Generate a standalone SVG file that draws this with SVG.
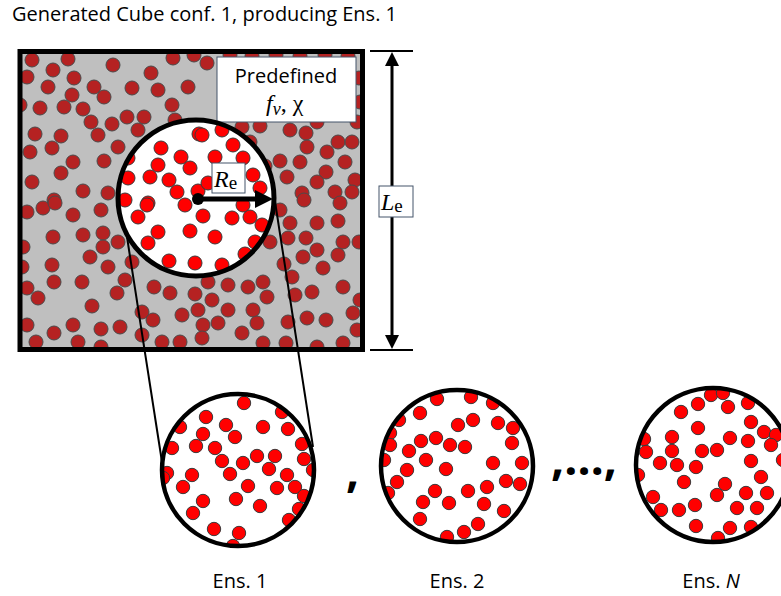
<svg xmlns="http://www.w3.org/2000/svg" xmlns:xlink="http://www.w3.org/1999/xlink" width="781" height="596" viewBox="0 0 781 596">
<style>
.g circle{fill:#b52222;stroke:#4a4a4a;stroke-width:1}
.r circle{fill:#ff0000;stroke:#3a3a3a;stroke-width:1}
.lbl{font-family:"Open Sans","Noto Sans",sans-serif;font-size:20px;fill:#000}
.math{font-family:"Liberation Serif","Times New Roman",serif;font-size:24px;fill:#000}
.box{fill:#fff;stroke:#44546a;stroke-width:1}
.ring{fill:none;stroke:#000;stroke-width:5}
.conn{stroke:#000;stroke-width:2;fill:none}
</style>
<defs>
<clipPath id="sq"><rect x="22" y="54" width="338" height="293"/></clipPath>
<clipPath id="bc"><circle cx="196" cy="198" r="78"/></clipPath>
<clipPath id="c1"><circle cx="238" cy="470" r="75"/></clipPath>
<clipPath id="c2"><circle cx="457" cy="466" r="75"/></clipPath>
<clipPath id="c3"><circle cx="713" cy="465" r="76"/></clipPath>
</defs>
<rect width="781" height="596" fill="#fff"/>
<text class="lbl" x="12" y="21" textLength="385" lengthAdjust="spacingAndGlyphs">Generated Cube conf. 1, producing Ens. 1</text>

<g id="cube">
<rect x="20" y="51.5" width="342.5" height="298" fill="#bfbfbf"/>
<g class="g" clip-path="url(#sq)">
<circle cx="32" cy="60" r="7"/><circle cx="68" cy="59" r="7"/><circle cx="53" cy="70" r="7"/><circle cx="27" cy="77" r="7"/><circle cx="74" cy="78" r="7"/><circle cx="113" cy="65" r="7"/><circle cx="48" cy="87" r="7"/><circle cx="94" cy="87" r="7"/><circle cx="72" cy="95" r="7"/><circle cx="104" cy="97" r="7"/><circle cx="132" cy="88" r="7"/><circle cx="151" cy="73" r="7"/><circle cx="158" cy="90" r="7"/><circle cx="173" cy="58" r="7"/><circle cx="194" cy="55" r="7"/><circle cx="207" cy="63" r="7"/><circle cx="188" cy="87" r="7"/><circle cx="172" cy="105" r="7"/><circle cx="40" cy="108" r="7"/><circle cx="64" cy="107" r="7"/><circle cx="83" cy="109" r="7"/><circle cx="91" cy="122" r="7"/><circle cx="112" cy="124" r="7"/><circle cx="127" cy="117" r="7"/><circle cx="144" cy="117" r="7"/><circle cx="138" cy="130" r="7"/><circle cx="175" cy="120" r="7"/><circle cx="35" cy="134" r="7"/><circle cx="61" cy="136" r="7"/><circle cx="98" cy="135" r="7"/><circle cx="52" cy="148" r="7"/><circle cx="30" cy="152" r="7"/><circle cx="118" cy="147" r="7"/><circle cx="73" cy="162" r="7"/><circle cx="104" cy="161" r="7"/><circle cx="61" cy="173" r="7"/><circle cx="32" cy="182" r="7"/><circle cx="83" cy="191" r="7"/><circle cx="108" cy="193" r="7"/><circle cx="54" cy="200" r="7"/><circle cx="20" cy="105" r="7"/>
<circle cx="230" cy="55" r="7"/><circle cx="252" cy="56" r="7"/><circle cx="276" cy="55" r="7"/><circle cx="300" cy="56" r="7"/><circle cx="325" cy="55" r="7"/><circle cx="348" cy="56" r="7"/><circle cx="359" cy="78" r="7"/><circle cx="360" cy="102" r="7"/>
<circle cx="242" cy="127" r="7"/><circle cx="260" cy="126" r="7"/><circle cx="290" cy="130" r="7"/><circle cx="306" cy="133" r="7"/><circle cx="317" cy="122" r="7"/><circle cx="357" cy="122" r="7"/><circle cx="338" cy="142" r="7"/><circle cx="352" cy="142" r="7"/><circle cx="307" cy="147" r="7"/><circle cx="250" cy="142" r="7"/><circle cx="327" cy="152" r="7"/><circle cx="280" cy="161" r="7"/><circle cx="300" cy="162" r="7"/><circle cx="265" cy="166" r="7"/><circle cx="345" cy="162" r="7"/><circle cx="326" cy="172" r="7"/><circle cx="287" cy="177" r="7"/><circle cx="317" cy="182" r="7"/><circle cx="355" cy="180" r="7"/><circle cx="335" cy="192" r="7"/><circle cx="352" cy="192" r="7"/><circle cx="302" cy="193" r="7"/>
<circle cx="27" cy="212" r="7"/><circle cx="43" cy="208" r="7"/><circle cx="55" cy="203" r="7"/><circle cx="73" cy="215" r="7"/><circle cx="101" cy="210" r="7"/><circle cx="53" cy="237" r="7"/><circle cx="83" cy="235" r="7"/><circle cx="103" cy="233" r="7"/><circle cx="103" cy="247" r="7"/><circle cx="118" cy="242" r="7"/><circle cx="90" cy="257" r="7"/><circle cx="23" cy="247" r="7"/><circle cx="52" cy="265" r="7"/><circle cx="108" cy="267" r="7"/><circle cx="132" cy="262" r="7"/><circle cx="22" cy="267" r="7"/><circle cx="54" cy="282" r="7"/><circle cx="82" cy="282" r="7"/><circle cx="125" cy="280" r="7"/><circle cx="27" cy="288" r="7"/><circle cx="117" cy="293" r="7"/><circle cx="154" cy="287" r="7"/><circle cx="170" cy="293" r="7"/><circle cx="38" cy="298" r="7"/><circle cx="195" cy="294" r="7"/><circle cx="208" cy="282" r="7"/><circle cx="212" cy="300" r="7"/><circle cx="92" cy="306" r="7"/><circle cx="142" cy="312" r="7"/><circle cx="153" cy="320" r="7"/><circle cx="182" cy="315" r="7"/><circle cx="198" cy="310" r="7"/><circle cx="27" cy="325" r="7"/><circle cx="54" cy="333" r="7"/><circle cx="73" cy="325" r="7"/><circle cx="101" cy="329" r="7"/><circle cx="120" cy="327" r="7"/><circle cx="142" cy="335" r="7"/><circle cx="162" cy="342" r="7"/><circle cx="180" cy="342" r="7"/><circle cx="203" cy="325" r="7"/><circle cx="202" cy="338" r="7"/><circle cx="36" cy="342" r="7"/><circle cx="78" cy="342" r="7"/><circle cx="101" cy="347" r="7"/>
<circle cx="280" cy="210" r="7"/><circle cx="304" cy="200" r="7"/><circle cx="340" cy="203" r="7"/><circle cx="290" cy="223" r="7"/><circle cx="317" cy="223" r="7"/><circle cx="338" cy="221" r="7"/><circle cx="270" cy="242" r="7"/><circle cx="288" cy="238" r="7"/><circle cx="306" cy="238" r="7"/><circle cx="317" cy="250" r="7"/><circle cx="343" cy="242" r="7"/><circle cx="359" cy="242" r="7"/><circle cx="284" cy="264" r="7"/><circle cx="303" cy="257" r="7"/><circle cx="323" cy="268" r="7"/><circle cx="338" cy="255" r="7"/><circle cx="292" cy="277" r="7"/><circle cx="263" cy="282" r="7"/><circle cx="248" cy="287" r="7"/><circle cx="267" cy="297" r="7"/><circle cx="295" cy="295" r="7"/><circle cx="312" cy="292" r="7"/><circle cx="343" cy="287" r="7"/><circle cx="228" cy="310" r="7"/><circle cx="253" cy="310" r="7"/><circle cx="353" cy="313" r="7"/><circle cx="360" cy="300" r="7"/><circle cx="218" cy="323" r="7"/><circle cx="257" cy="323" r="7"/><circle cx="288" cy="322" r="7"/><circle cx="307" cy="318" r="7"/><circle cx="326" cy="320" r="7"/><circle cx="242" cy="333" r="7"/><circle cx="263" cy="343" r="7"/><circle cx="286" cy="343" r="7"/><circle cx="317" cy="347" r="7"/><circle cx="343" cy="343" r="7"/><circle cx="357" cy="330" r="7"/><circle cx="228" cy="285" r="7"/>
</g>
<rect x="20" y="51.5" width="342.5" height="298" fill="none" stroke="#000" stroke-width="5"/>
</g>

<g id="predefined">
<rect class="box" x="217" y="57" width="139" height="65" stroke="#7f7f7f"/>
<text class="lbl" x="286" y="83" text-anchor="middle">Predefined</text>
<text class="math" x="266" y="111"><tspan font-style="italic">f</tspan><tspan font-style="italic" font-size="18" dy="4">v</tspan><tspan dy="-4">, χ</tspan></text>
</g>

<g id="connectors">
<line class="conn" x1="127" y1="237" x2="162" y2="462"/>
<line class="conn" x1="274" y1="195" x2="313" y2="447"/>
</g>

<g id="window">
<circle cx="196" cy="198" r="78" fill="#fff"/>
<g class="r" clip-path="url(#bc)">
<circle cx="199" cy="134" r="7"/><circle cx="161" cy="148" r="7"/><circle cx="181" cy="157" r="7"/><circle cx="190" cy="168" r="7"/><circle cx="158" cy="165" r="7"/><circle cx="150" cy="177" r="7"/><circle cx="169" cy="180" r="7"/><circle cx="128" cy="178" r="7"/><circle cx="177" cy="192" r="7"/><circle cx="198" cy="191" r="7"/><circle cx="148" cy="203" r="7"/><circle cx="128" cy="158" r="7"/><circle cx="208" cy="183" r="7"/><circle cx="202" cy="135" r="7"/><circle cx="233" cy="145" r="7"/><circle cx="215" cy="157" r="7"/><circle cx="243" cy="158" r="7"/><circle cx="253" cy="175" r="7"/><circle cx="260" cy="188" r="7"/><circle cx="147" cy="205" r="7"/><circle cx="138" cy="217" r="7"/><circle cx="158" cy="232" r="7"/><circle cx="148" cy="243" r="7"/><circle cx="185" cy="205" r="7"/><circle cx="203" cy="216" r="7"/><circle cx="190" cy="231" r="7"/><circle cx="169" cy="261" r="7"/><circle cx="195" cy="263" r="7"/><circle cx="215" cy="237" r="7"/><circle cx="232" cy="218" r="7"/><circle cx="250" cy="217" r="7"/><circle cx="243" cy="205" r="7"/><circle cx="262" cy="225" r="7"/><circle cx="255" cy="242" r="7"/><circle cx="245" cy="254" r="7"/><circle cx="222" cy="265" r="7"/><circle cx="125" cy="200" r="7"/><circle cx="222" cy="130" r="7"/>
</g>
<circle class="ring" cx="196" cy="198" r="78"/>
<line x1="198" y1="199" x2="258" y2="199" stroke="#000" stroke-width="5"/>
<circle cx="198" cy="199" r="6" fill="#000"/>
<polygon points="255,190 273,199 255,208" fill="#000"/>
<rect class="box" x="212" y="163" width="33" height="30"/>
<text class="math" x="214" y="187"><tspan font-style="italic">R</tspan><tspan font-size="19" dy="2">e</tspan></text>
</g>

<g id="Le">
<line x1="370" y1="51" x2="413" y2="51" stroke="#000" stroke-width="2"/>
<line x1="370" y1="350" x2="413" y2="350" stroke="#000" stroke-width="2"/>
<line x1="392" y1="62" x2="392" y2="338" stroke="#000" stroke-width="3"/>
<polygon points="392,52 385,66 399,66" fill="#000"/>
<polygon points="392,349 385,335 399,335" fill="#000"/>
<rect class="box" x="379" y="186" width="34" height="31"/>
<text class="math" x="381" y="210"><tspan font-style="italic">L</tspan><tspan font-size="19" dy="2">e</tspan></text>
</g>

<g id="ens1">
<circle cx="238" cy="470" r="76" fill="#fff"/>
<g class="r" clip-path="url(#c1)">
<circle cx="244" cy="403" r="6.7"/><circle cx="206" cy="417" r="6.7"/><circle cx="180" cy="427" r="6.7"/><circle cx="226" cy="425" r="6.7"/><circle cx="263" cy="427" r="6.7"/><circle cx="282" cy="412" r="6.7"/><circle cx="288" cy="429" r="6.7"/><circle cx="203" cy="434" r="6.7"/><circle cx="235" cy="437" r="6.7"/><circle cx="172" cy="448" r="6.7"/><circle cx="196" cy="446" r="6.7"/><circle cx="215" cy="448" r="6.7"/><circle cx="302" cy="444" r="6.7"/><circle cx="222" cy="461" r="6.7"/><circle cx="243" cy="463" r="6.7"/><circle cx="257" cy="456" r="6.7"/><circle cx="275" cy="456" r="6.7"/><circle cx="304" cy="459" r="6.7"/><circle cx="167" cy="473" r="6.7"/><circle cx="192" cy="475" r="6.7"/><circle cx="230" cy="474" r="6.7"/><circle cx="269" cy="469" r="6.7"/><circle cx="287" cy="475" r="6.7"/><circle cx="183" cy="487" r="6.7"/><circle cx="248" cy="486" r="6.7"/><circle cx="277" cy="488" r="6.7"/><circle cx="295" cy="487" r="6.7"/><circle cx="304" cy="496" r="6.7"/><circle cx="203" cy="501" r="6.7"/><circle cx="236" cy="499" r="6.7"/><circle cx="193" cy="513" r="6.7"/><circle cx="260" cy="506" r="6.7"/><circle cx="299" cy="509" r="6.7"/><circle cx="289" cy="520" r="6.7"/><circle cx="214" cy="529" r="6.7"/><circle cx="239" cy="533" r="6.7"/><circle cx="233" cy="546" r="6.7"/><circle cx="313" cy="470" r="6.7"/><circle cx="163" cy="478" r="6.7"/>
</g>
<circle cx="238" cy="470" r="76" fill="none" stroke="#000" stroke-width="4.5"/>
</g>

<g id="ens2">
<circle cx="457" cy="466" r="76" fill="#fff"/>
<g class="r" clip-path="url(#c2)">
<circle cx="437" cy="399" r="6.7"/><circle cx="471" cy="397" r="6.7"/><circle cx="493" cy="403" r="6.7"/><circle cx="420" cy="413" r="6.7"/><circle cx="399" cy="420" r="6.7"/><circle cx="458" cy="425" r="6.7"/><circle cx="473" cy="420" r="6.7"/><circle cx="498" cy="423" r="6.7"/><circle cx="513" cy="428" r="6.7"/><circle cx="390" cy="433" r="6.7"/><circle cx="421" cy="441" r="6.7"/><circle cx="436" cy="438" r="6.7"/><circle cx="450" cy="445" r="6.7"/><circle cx="465" cy="447" r="6.7"/><circle cx="512" cy="443" r="6.7"/><circle cx="390" cy="445" r="6.7"/><circle cx="409" cy="451" r="6.7"/><circle cx="384" cy="460" r="6.7"/><circle cx="426" cy="460" r="6.7"/><circle cx="446" cy="469" r="6.7"/><circle cx="493" cy="463" r="6.7"/><circle cx="522" cy="463" r="6.7"/><circle cx="407" cy="470" r="6.7"/><circle cx="397" cy="482" r="6.7"/><circle cx="435" cy="491" r="6.7"/><circle cx="468" cy="491" r="6.7"/><circle cx="487" cy="487" r="6.7"/><circle cx="506" cy="481" r="6.7"/><circle cx="520" cy="484" r="6.7"/><circle cx="388" cy="493" r="6.7"/><circle cx="423" cy="502" r="6.7"/><circle cx="449" cy="503" r="6.7"/><circle cx="484" cy="504" r="6.7"/><circle cx="504" cy="511" r="6.7"/><circle cx="420" cy="519" r="6.7"/><circle cx="478" cy="524" r="6.7"/><circle cx="464" cy="532" r="6.7"/><circle cx="447" cy="537" r="6.7"/>
</g>
<circle cx="457" cy="466" r="76" fill="none" stroke="#000" stroke-width="4.5"/>
</g>

<g id="ensN">
<circle cx="713" cy="465" r="77" fill="#fff"/>
<g class="r" clip-path="url(#c3)">
<circle cx="698" cy="404" r="6.7"/><circle cx="711" cy="395" r="6.7"/><circle cx="723" cy="393" r="6.7"/><circle cx="728" cy="407" r="6.7"/><circle cx="681" cy="412" r="6.7"/><circle cx="748" cy="403" r="6.7"/><circle cx="751" cy="422" r="6.7"/><circle cx="698" cy="428" r="6.7"/><circle cx="764" cy="432" r="6.7"/><circle cx="776" cy="435" r="6.7"/><circle cx="644" cy="439" r="6.7"/><circle cx="672" cy="437" r="6.7"/><circle cx="730" cy="438" r="6.7"/><circle cx="748" cy="441" r="6.7"/><circle cx="771" cy="445" r="6.7"/><circle cx="646" cy="452" r="6.7"/><circle cx="672" cy="451" r="6.7"/><circle cx="702" cy="451" r="6.7"/><circle cx="717" cy="450" r="6.7"/><circle cx="751" cy="461" r="6.7"/><circle cx="660" cy="463" r="6.7"/><circle cx="677" cy="465" r="6.7"/><circle cx="696" cy="467" r="6.7"/><circle cx="638" cy="475" r="6.7"/><circle cx="761" cy="477" r="6.7"/><circle cx="684" cy="482" r="6.7"/><circle cx="725" cy="484" r="6.7"/><circle cx="717" cy="495" r="6.7"/><circle cx="746" cy="493" r="6.7"/><circle cx="767" cy="493" r="6.7"/><circle cx="653" cy="497" r="6.7"/><circle cx="661" cy="510" r="6.7"/><circle cx="679" cy="510" r="6.7"/><circle cx="695" cy="505" r="6.7"/><circle cx="737" cy="508" r="6.7"/><circle cx="757" cy="508" r="6.7"/><circle cx="696" cy="526" r="6.7"/><circle cx="730" cy="528" r="6.7"/><circle cx="751" cy="527" r="6.7"/><circle cx="718" cy="538" r="6.7"/><circle cx="783" cy="460" r="6.7"/>
</g>
<circle cx="713" cy="465" r="77" fill="none" stroke="#000" stroke-width="4.5"/>
</g>

<text x="346" y="487" font-family="Open Sans, sans-serif" font-weight="bold" font-size="46">,</text>
<text x="551" y="475" font-family="Open Sans, sans-serif" font-weight="bold" font-size="46" textLength="66" lengthAdjust="spacingAndGlyphs">,…,</text>

<text class="lbl" x="240" y="588" text-anchor="middle">Ens. 1</text>
<text class="lbl" x="457" y="588" text-anchor="middle">Ens. 2</text>
<text class="lbl" x="711" y="588" text-anchor="middle">Ens. <tspan font-style="italic">N</tspan></text>
</svg>
